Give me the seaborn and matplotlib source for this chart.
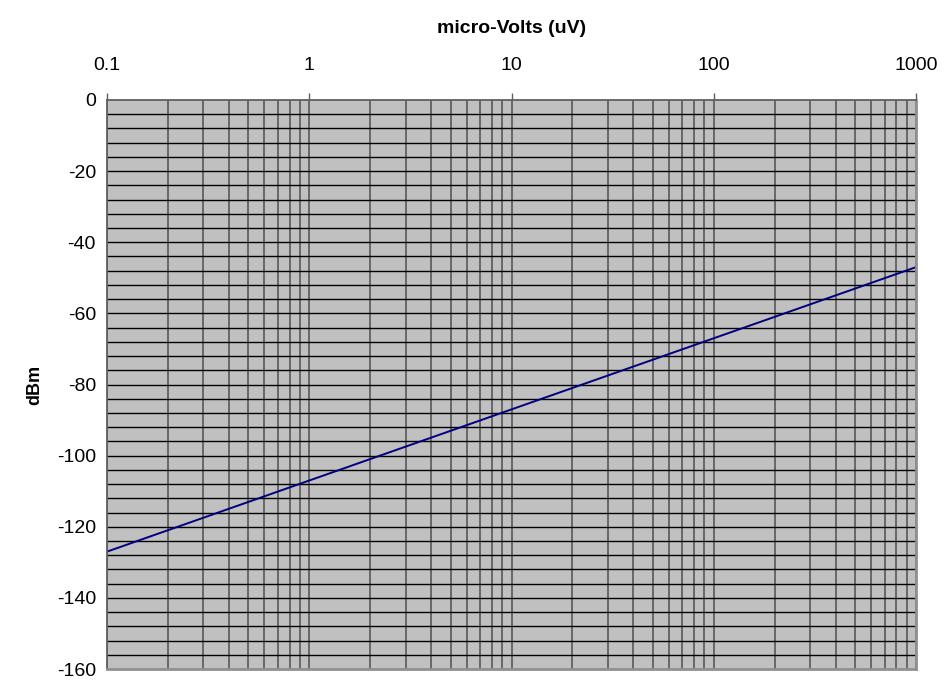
import numpy as np
import pandas as pd
import matplotlib
matplotlib.use("Agg")
import matplotlib.pyplot as plt
import seaborn as sns
from matplotlib.ticker import FixedLocator, NullFormatter, FixedFormatter

# one point per decade
micro_volts = [0.1, 1, 10, 100, 1000]
dbm = [-127, -107, -87, -67, -47]
x_tick_labels = ["0.1", "1", "10", "100", "1000"]
y_ticks = [0, -20, -40, -60, -80, -100, -120, -140, -160]

df = pd.DataFrame({"uV": micro_volts, "dBm": dbm})

sns.set_style("white")
plt.rcParams["font.family"] = ["Liberation Sans", "DejaVu Sans"]
plt.rcParams["axes.unicode_minus"] = False

fig = plt.figure(figsize=(9.44, 6.81), dpi=100)
ax = fig.add_axes([107 / 944, 1 - 669 / 681, (916 - 107) / 944, (669 - 100) / 681])
ax.set_facecolor("#c0c0c0")

sns.lineplot(data=df, x="uV", y="dBm", ax=ax, color="#000080", linewidth=1.4)

ax.set_xscale("log")
ax.set_xlim(0.1, 1000)
ax.set_ylim(-160, 0)

# gridlines: vertical grey at 1..9 per decade, horizontal black every 4 dBm
minor_x = [m * 10.0 ** e for e in range(-1, 3) for m in range(1, 10)] + [1000]
for xv in minor_x:
    ax.axvline(xv, color="#606060", linewidth=1.3, zorder=0.5)
for yv in np.arange(-156, 0, 4):
    ax.axhline(yv, color="black", linewidth=1.0, zorder=0.6)

ax.xaxis.set_ticks_position("top")
ax.xaxis.set_label_position("top")
ax.xaxis.set_major_locator(FixedLocator(micro_volts))
ax.xaxis.set_major_formatter(FixedFormatter(x_tick_labels))
ax.xaxis.set_minor_locator(FixedLocator([]))
ax.xaxis.set_minor_formatter(NullFormatter())
ax.tick_params(axis="x", which="major", direction="out", length=5, width=1,
               color="#606060", labelsize=14, labelcolor="black", pad=14)

ax.set_yticks(y_ticks)
ax.tick_params(axis="y", which="major", direction="out", length=5, width=1,
               color="black", labelsize=14, labelcolor="black", pad=3)

ax.set_xlabel("micro-Volts (uV)", fontsize=14, fontweight="bold", color="black", labelpad=17)
ax.set_ylabel("dBm", fontsize=13, fontweight="bold", color="black", labelpad=10)

for side in ["left", "top"]:
    ax.spines[side].set_color("#606060")
    ax.spines[side].set_linewidth(1.3)
for side in ["right", "bottom"]:
    ax.spines[side].set_color("#909090")
    ax.spines[side].set_linewidth(2)

fig.savefig("out.png", dpi=100, facecolor="white")
